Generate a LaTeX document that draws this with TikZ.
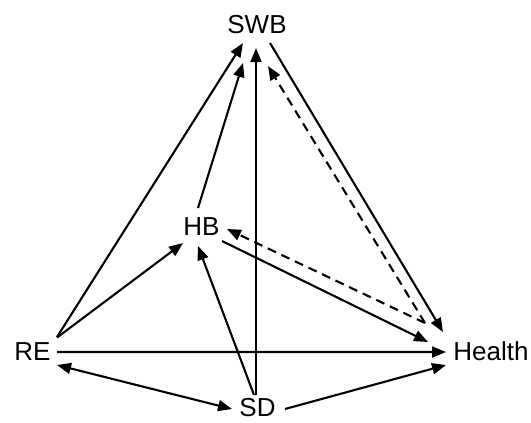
\documentclass[tikz,border=0pt]{standalone}
\usepackage{fontspec}
\setmainfont{Liberation Sans}
\usetikzlibrary{arrows.meta}
\begin{document}
\begin{tikzpicture}[x=1bp,y=-1bp,
  lbl/.style={inner sep=0pt,text height=18.6bp,text depth=0pt,anchor=center,font=\fontsize{26bp}{30bp}\selectfont},
  arr/.style={line width=2.1bp,-{Triangle[length=14bp,width=11bp]}},
  biarr/.style={line width=2.1bp,{Triangle[length=14bp,width=11bp]}-{Triangle[length=14bp,width=11bp]}},
  darr/.style={arr,dash pattern=on 9bp off 6bp}]
\useasboundingbox (0,0) rectangle (531,422);
\node[lbl] (SWB) at (257,24) {SWB};
\node[lbl] (HB) at (201.5,226) {HB};
\node[lbl] (RE) at (32.5,351.5) {RE};
\node[lbl] (Health) at (491,351) {Health};
\node[lbl] (SD) at (257.5,407.5) {SD};
% RE edges
\draw[arr] ([shift={(24.5,-14.5)}]RE.center) -- ([shift={(-14,19)}]SWB.center);
\draw[arr] ([shift={(24.5,-14)}]RE.center) -- ([shift={(-18.5,17)}]HB.center);
\draw[arr] ([shift={(24.5,0.5)}]RE.center) -- ([shift={(-45,1)}]Health.center);
\draw[biarr] ([shift={(24.5,13.5)}]RE.center) -- ([shift={(-25.5,1.5)}]SD.center);
% SD edges
\draw[arr] ([shift={(-3.5,-12.5)}]SD.center) -- ([shift={(-3.5,20)}]HB.center);
\draw[arr] ([shift={(-1.5,-12.5)}]SD.center) -- ([shift={(-1,24)}]SWB.center);
\draw[arr] ([shift={(27.5,1.5)}]SD.center) -- ([shift={(-45,14)}]Health.center);
% HB edges
\draw[arr] ([shift={(-3.5,-18)}]HB.center) -- ([shift={(-14,39)}]SWB.center);
\draw[arr] ([shift={(20.5,15)}]HB.center) -- ([shift={(-63,-9)}]Health.center);
% SWB edge
\draw[arr] ([shift={(13,19)}]SWB.center) -- ([shift={(-48,-19)}]Health.center);
% dashed from Health
\draw[darr] ([shift={(-66,-28)}]Health.center) -- ([shift={(11,42)}]SWB.center);
\draw[darr] ([shift={(-66,-28)}]Health.center) -- ([shift={(25.5,3)}]HB.center);
\end{tikzpicture}
\end{document}
